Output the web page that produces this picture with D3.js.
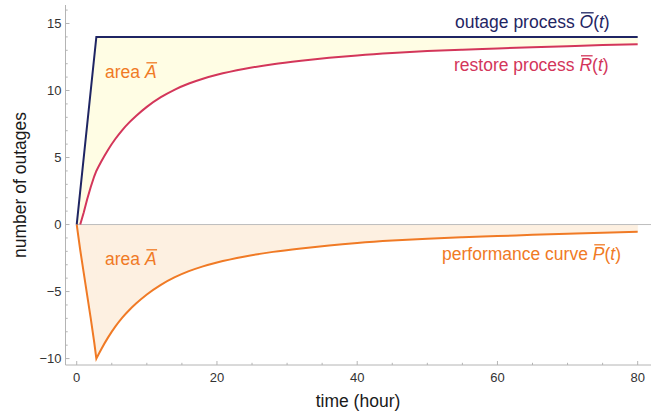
<!DOCTYPE html>
<html>

<head>
    <meta charset="utf-8" />
    <title>Outage and restore processes</title>
    <script src="https://d3js.org/d3.v7.min.js"></script>
    <style>
        body {
            margin: 0;
            background: #fff;
        }

        svg text {
            font-family: "Liberation Sans", Arial, sans-serif;
        }

        .tick-label {
            font-size: 13px;
            fill: #333;
        }

        .axis-title {
            font-size: 17.5px;
            fill: #1a1a1a;
        }

        .curve-label {
            font-size: 17.5px;
        }
    </style>
</head>

<body>
    <div id="chart"></div>
    <script>
        // values
        const outageTime = [0, 2.8, 80];
        const outageValue = [0, 14, 14];

        const restoreTime = [0.5, 1, 1.5, 2, 2.5, 2.8, 3.5, 4.5, 5.5, 6.5, 7.5, 8.5, 10, 12, 14, 16, 18, 20, 24, 28, 32, 36, 40, 45, 50, 55, 60, 65, 70, 75, 80];
        const restoreValue = [0, 0.9, 1.9, 2.8, 3.6, 4.0, 4.7, 5.6, 6.38, 7.05, 7.62, 8.12, 8.78, 9.5, 10.07, 10.52, 10.88, 11.17, 11.62, 11.96, 12.22, 12.44, 12.62, 12.8, 12.94, 13.05, 13.14, 13.23, 13.31, 13.39, 13.46];

        const perfTime = [0, 0.5, 1, 1.5, 2, 2.5, 2.8, 3.5, 4.5, 5.5, 6.5, 7.5, 8.5, 10, 12, 14, 16, 18, 20, 24, 28, 32, 36, 40, 45, 50, 55, 60, 65, 70, 75, 80];
        const perfValue = [0, -1.9, -3.6, -5.3, -7.0, -8.8, -10, -9.3, -8.4, -7.62, -6.95, -6.38, -5.88, -5.22, -4.5, -3.93, -3.48, -3.12, -2.83, -2.38, -2.04, -1.78, -1.56, -1.38, -1.2, -1.06, -0.95, -0.86, -0.77, -0.69, -0.61, -0.54];

        const peakTime = 2.8; // where the outage process levels off

        const xMajorTicks = [0, 20, 40, 60, 80];
        const xMinorTicks = d3.range(0, 81, 5);
        const yMajorTicks = [-10, -5, 0, 5, 10, 15];
        const yMinorTicks = d3.range(-10, 17, 1);

        const width = 664, height = 420;

        const x = d3.scaleLinear().domain([-1.6, 81.9]).range([65.5, 651]);
        const y = d3.scaleLinear().domain([-10.48, 16.38]).range([365, 5]);

        const svg = d3.select("#chart").append("svg")
            .attr("width", width)
            .attr("height", height);

        const toPts = (ts, vs) => ts.map((t, i) => ({ t: t, v: vs[i] }));
        const outagePts = toPts(outageTime, outageValue);
        const restorePts = toPts(restoreTime, restoreValue);
        const perfPts = toPts(perfTime, perfValue);

        // outage is piecewise linear, so it can be read at any time
        const outageAt = d3.scaleLinear().domain(outageTime).range(outageValue);

        const lineLin = d3.line().x(d => x(d.t)).y(d => y(d.v));
        const lineSmooth = d3.line().curve(d3.curveMonotoneX).x(d => x(d.t)).y(d => y(d.v));

        // straight before the peak, smooth after it (keeps the cusp sharp)
        function splitLine(pts) {
            const pre = pts.filter(d => d.t <= peakTime);
            const post = pts.filter(d => d.t >= peakTime);
            return lineLin(pre) + lineSmooth(post).replace(/^M[^LC]*/, "");
        }

        function splitArea(pts, lo, hi) {
            const areaLin = d3.area().x(d => x(d.t)).y0(d => y(lo(d))).y1(d => y(hi(d)));
            const areaSmooth = d3.area().curve(d3.curveMonotoneX).x(d => x(d.t)).y0(d => y(lo(d))).y1(d => y(hi(d)));
            const pre = pts.filter(d => d.t <= peakTime);
            const post = pts.filter(d => d.t >= peakTime);
            return areaLin(pre) + areaSmooth(post);
        }

        // fill between outage and restore
        const gapPts = [{ t: 0, v: 0 }].concat(restorePts);
        svg.append("path")
            .attr("d", splitArea(gapPts, d => d.v, d => outageAt(d.t)))
            .attr("fill", "#fffde4")
            .attr("stroke", "#fffde4")
            .attr("stroke-width", 0.5);

        // fill between zero and the performance curve
        svg.append("path")
            .attr("d", splitArea(perfPts, d => 0, d => d.v))
            .attr("fill", "#fdf0e1")
            .attr("stroke", "#fdf0e1")
            .attr("stroke-width", 0.5);

        // zero line
        svg.append("line")
            .attr("x1", x(0)).attr("x2", x.range()[1])
            .attr("y1", y(0)).attr("y2", y(0))
            .attr("stroke", "#bdbdbd")
            .attr("stroke-width", 1);

        // frame: left and bottom
        const axisColor = "#b4b4b4";
        svg.append("line")
            .attr("x1", x.range()[0]).attr("x2", x.range()[1])
            .attr("y1", y.range()[0]).attr("y2", y.range()[0])
            .attr("stroke", axisColor);
        svg.append("line")
            .attr("x1", x.range()[0]).attr("x2", x.range()[0])
            .attr("y1", y.range()[0]).attr("y2", y.range()[1])
            .attr("stroke", axisColor);

        // ticks point inward
        svg.append("g").selectAll("line")
            .data(xMinorTicks)
            .join("line")
            .attr("x1", d => x(d)).attr("x2", d => x(d))
            .attr("y1", y.range()[0])
            .attr("y2", d => y.range()[0] - (xMajorTicks.includes(d) ? 4 : 2.2))
            .attr("stroke", axisColor);

        svg.append("g").selectAll("line")
            .data(yMinorTicks)
            .join("line")
            .attr("y1", d => y(d)).attr("y2", d => y(d))
            .attr("x1", x.range()[0])
            .attr("x2", d => x.range()[0] + (yMajorTicks.includes(d) ? 4 : 2.2))
            .attr("stroke", axisColor);

        svg.append("g").selectAll("text")
            .data(xMajorTicks)
            .join("text")
            .attr("class", "tick-label")
            .attr("x", d => x(d))
            .attr("y", 381.5)
            .attr("text-anchor", "middle")
            .text(d => d);

        svg.append("g").selectAll("text")
            .data(yMajorTicks)
            .join("text")
            .attr("class", "tick-label")
            .attr("x", 61.5)
            .attr("y", d => y(d) + 4.6)
            .attr("text-anchor", "end")
            .text(d => (d < 0 ? "\u2212" + Math.abs(d) : d));

        svg.append("text")
            .attr("class", "axis-title")
            .attr("x", 358)
            .attr("y", 407)
            .attr("text-anchor", "middle")
            .text("time (hour)");

        svg.append("text")
            .attr("class", "axis-title")
            .attr("transform", "translate(26,185) rotate(-90)")
            .attr("text-anchor", "middle")
            .text("number of outages");

        // curves
        const navy = "#1f2563", crimson = "#d3365a", orange = "#f07a25";

        svg.append("path")
            .attr("d", lineLin(outagePts))
            .attr("fill", "none")
            .attr("stroke", navy)
            .attr("stroke-width", 2)
            .attr("stroke-linejoin", "miter");

        svg.append("path")
            .attr("d", splitLine(restorePts))
            .attr("fill", "none")
            .attr("stroke", crimson)
            .attr("stroke-width", 2);

        svg.append("path")
            .attr("d", splitLine(perfPts))
            .attr("fill", "none")
            .attr("stroke", orange)
            .attr("stroke-width", 2);

        // labels: plain part, then an italic symbol with a bar over it, then the rest
        function label(px, py, color, plain, symbol, tail) {
            const t = svg.append("text")
                .attr("class", "curve-label")
                .attr("x", px)
                .attr("y", py)
                .attr("fill", color);
            t.append("tspan").text(plain);
            t.append("tspan").attr("font-style", "italic").text(symbol);
            if (tail) {
                t.append("tspan").text("(");
                t.append("tspan").attr("font-style", "italic").text("t");
                t.append("tspan").text(")");
            }
            const node = t.node();
            const box = node.getExtentOfChar(plain.length);
            svg.append("line")
                .attr("x1", box.x + 1.5).attr("x2", box.x + box.width + 0.5)
                .attr("y1", py - 15.2).attr("y2", py - 15.2)
                .attr("stroke", color)
                .attr("stroke-width", 1.3);
        }

        label(455, 28, navy, "outage process ", "O", true);
        label(454, 71, crimson, "restore process ", "R", true);
        label(105, 78, orange, "area ", "A", false);
        label(105, 265, orange, "area ", "A", false);
        label(442, 260, orange, "performance curve ", "P", true);
    </script>
</body>

</html>
